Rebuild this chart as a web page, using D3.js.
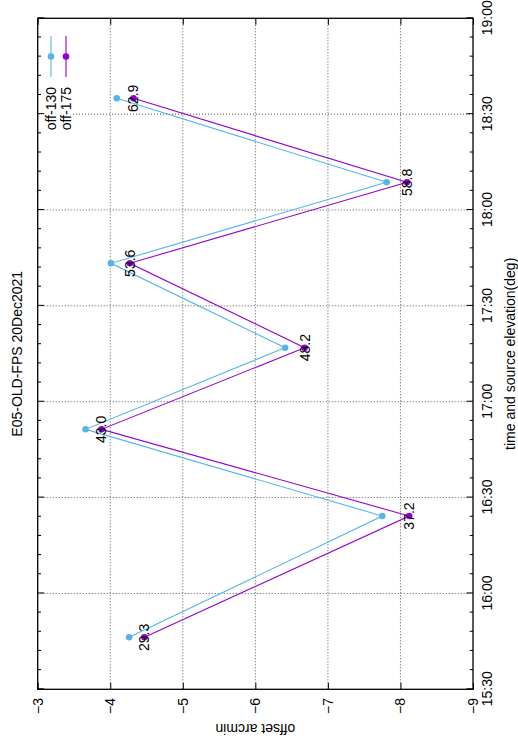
<!DOCTYPE html>
<html>
<head>
<meta charset="utf-8">
<script src="https://cdn.jsdelivr.net/npm/d3@7"></script>
<style>
  html, body { margin: 0; padding: 0; background: #fff; }
  svg { display: block; }
  text { font-family: "Liberation Sans", Arial, sans-serif; }
</style>
</head>
<body>
<script>
// ---- data ----
const times = ["15:46:16", "16:24:14", "16:51:22", "17:16:55", "17:43:20", "18:08:40", "18:34:58"];
const off130 = [-4.26, -7.75, -3.66, -6.41, -4.01, -7.81, -4.09];
const off175 = [-4.47, -8.12, -3.88, -6.68, -4.27, -8.09, -4.32];
const elevLabels = ["29.3", "37.2", "43.0", "48.2", "53.6", "58.8", "62.9"];
const seriesNames = ["off-130", "off-175"];
const seriesColors = ["#56b4e9", "#9400d3"];
const timeTicks = ["15:30", "16:00", "16:30", "17:00", "17:30", "18:00", "18:30", "19:00"];
const offsetTicks = [-3, -4, -5, -6, -7, -8, -9];
const titleText = "E05-OLD-FPS 20Dec2021";
const xLabel = "time and source elevation(deg)";
const yLabel = "offset arcmin";

// ---- layout (landscape frame, rotated onto portrait page) ----
const PW = 518, PH = 748;       // page
const pL = 58.7, pR = 729.7, pT = 37.7, pB = 473;

const parseT = d3.timeParse("%H:%M:%S");
const parseHM = d3.timeParse("%H:%M");
const tDates = times.map(parseT);
const tickDates = timeTicks.map(parseHM);

const x = d3.scaleTime().domain([tickDates[0], tickDates[tickDates.length - 1]]).range([pL, pR]);
const y = d3.scaleLinear().domain([-9, -3]).range([pB, pT]);

const svg = d3.select("body").append("svg").attr("width", PW).attr("height", PH);
svg.append("rect").attr("width", PW).attr("height", PH).attr("fill", "#fff");
const g = svg.append("g").attr("transform", `translate(0,${PH}) rotate(-90)`);

const fs = 14;

// legend box area (for grid clipping)
const legTop = pT, legBottom = 73, legLeft = 606, legRight = pR;

// ---- grid ----
const grid = g.append("g").attr("stroke", "#555").attr("stroke-width", 1).attr("stroke-dasharray", "1,2").attr("fill", "none");
tickDates.slice(1, -1).forEach(d => {
  const xx = x(d);
  const y0 = (xx >= legLeft && xx <= legRight) ? legBottom : pT;
  grid.append("line").attr("x1", xx).attr("x2", xx).attr("y1", y0).attr("y2", pB);
});
offsetTicks.slice(1, -1).forEach(v => {
  const yy = y(v);
  const x1 = (yy >= legTop && yy <= legBottom) ? legLeft : pR;
  grid.append("line").attr("x1", pL).attr("x2", x1).attr("y1", yy).attr("y2", yy);
});

// ---- axes ----
const minorTimes = d3.timeMinute.every(6).range(tickDates[0], tickDates[tickDates.length - 1]).filter(d => d.getMinutes() % 30 !== 0);

const xAxis = d3.axisBottom(x).tickValues(tickDates).tickFormat(d3.timeFormat("%H:%M")).tickSizeInner(-6.5).tickSizeOuter(0).tickPadding(9);
const gx = g.append("g").attr("transform", `translate(0,${pB})`).call(xAxis);
const gxm = g.append("g").attr("transform", `translate(0,${pB})`).call(d3.axisBottom(x).tickValues(minorTimes).tickFormat("").tickSizeInner(-3.3).tickSizeOuter(0));
const gx2 = g.append("g").attr("transform", `translate(0,${pT})`).call(d3.axisTop(x).tickValues(tickDates).tickFormat("").tickSizeInner(-6.5).tickSizeOuter(0));
const gx2m = g.append("g").attr("transform", `translate(0,${pT})`).call(d3.axisTop(x).tickValues(minorTimes).tickFormat("").tickSizeInner(-3.3).tickSizeOuter(0));

const yAxis = d3.axisLeft(y).tickValues(offsetTicks).tickFormat(d3.format("d")).tickSizeInner(-6.5).tickSizeOuter(0).tickPadding(8.7);
const gy = g.append("g").attr("transform", `translate(${pL},0)`).call(yAxis);
const gy2 = g.append("g").attr("transform", `translate(${pR},0)`).call(d3.axisRight(y).tickValues(offsetTicks).tickFormat("").tickSizeInner(-6.5).tickSizeOuter(0));

[gx, gxm, gx2, gx2m, gy, gy2].forEach(a => {
  a.select(".domain").remove();
  a.selectAll(".tick line").attr("stroke", "#000").attr("stroke-width", 1);
  a.selectAll(".tick text").attr("font-size", fs).attr("fill", "#000").attr("font-family", "Liberation Sans, Arial, sans-serif");
});
gy.selectAll(".tick text").text(d => d3.format("d")(d));

// border
g.append("rect").attr("x", pL).attr("y", pT).attr("width", pR - pL).attr("height", pB - pT)
  .attr("fill", "none").attr("stroke", "#000").attr("stroke-width", 1.3);

// ---- series ----
const series = [off130, off175];
const line = d3.line().x((d, i) => x(tDates[i])).y(d => y(d));
series.forEach((vals, si) => {
  g.append("path").datum(vals).attr("d", line).attr("fill", "none").attr("stroke", seriesColors[si]).attr("stroke-width", 1.1);
  g.append("g").selectAll("circle").data(vals).join("circle")
    .attr("cx", (d, i) => x(tDates[i])).attr("cy", d => y(d)).attr("r", 3.3).attr("fill", seriesColors[si]);
});

// elevation labels at off-175 points
g.append("g").selectAll("text").data(elevLabels).join("text")
  .attr("x", (d, i) => x(tDates[i])).attr("y", (d, i) => y(off175[i])).attr("dy", "0.35em")
  .attr("text-anchor", "middle").attr("font-size", fs).attr("fill", "#000").text(d => d);

// ---- legend ----
seriesNames.forEach((name, i) => {
  const ly = 51 + i * 15;
  g.append("text").attr("x", 661).attr("y", ly).attr("dy", "0.35em").attr("text-anchor", "end")
    .attr("font-size", fs).attr("fill", "#000").text(name);
  g.append("line").attr("x1", 671).attr("x2", 712).attr("y1", ly).attr("y2", ly)
    .attr("stroke", seriesColors[i]).attr("stroke-width", 1.1);
  g.append("circle").attr("cx", 691.5).attr("cy", ly).attr("r", 3.3).attr("fill", seriesColors[i]);
});

// ---- titles ----
g.append("text").attr("x", (pL + pR) / 2).attr("y", 21.5).attr("text-anchor", "middle")
  .attr("font-size", fs).attr("fill", "#000").text(titleText);
g.append("text").attr("x", (pL + pR) / 2).attr("y", 515).attr("text-anchor", "middle")
  .attr("font-size", fs).attr("fill", "#000").text(xLabel);
g.append("text").attr("transform", `translate(24.5,${(pT + pB) / 2}) rotate(-90)`).attr("text-anchor", "middle")
  .attr("font-size", fs).attr("fill", "#000").text(yLabel);
</script>
</body>
</html>
